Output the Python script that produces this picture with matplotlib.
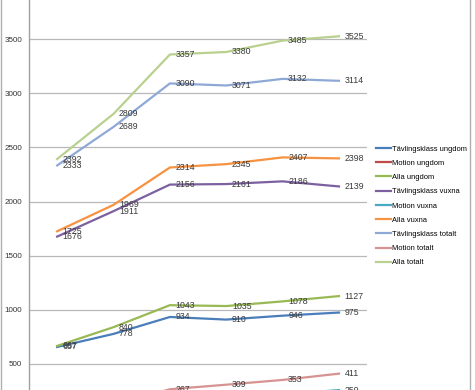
import matplotlib.pyplot as plt
from matplotlib.patches import Rectangle

plt.rcParams['font.family'] = ['Liberation Sans', 'DejaVu Sans']

# six seasons, x labels are cut off in the original view
points = range(6)

tavling_ungdom = [657, 778, 934, 910, 946, 975]
motion_ungdom = [10, 62, 109, 125, 132, 152]
alla_ungdom = [667, 840, 1043, 1035, 1078, 1127]
tavling_vuxna = [1676, 1911, 2156, 2161, 2186, 2139]
motion_vuxna = [49, 58, 158, 184, 221, 259]
alla_vuxna = [1725, 1969, 2314, 2345, 2407, 2398]
tavling_totalt = [2333, 2689, 3090, 3071, 3132, 3114]
motion_totalt = [59, 120, 267, 309, 353, 411]
alla_totalt = [2392, 2809, 3357, 3380, 3485, 3525]

series = [
    ('Tävlingsklass ungdom', tavling_ungdom, '#4A7EBB'),
    ('Motion ungdom', motion_ungdom, '#BE4B48'),
    ('Alla ungdom', alla_ungdom, '#98B954'),
    ('Tävlingsklass vuxna', tavling_vuxna, '#7D60A0'),
    ('Motion vuxna', motion_vuxna, '#46AAC5'),
    ('Alla vuxna', alla_vuxna, '#F69240'),
    ('Tävlingsklass totalt', tavling_totalt, '#8FA9D6'),
    ('Motion totalt', motion_totalt, '#D69392'),
    ('Alla totalt', alla_totalt, '#B9D08F'),
]

fig = plt.figure(figsize=(4.75, 3.9), dpi=100)
ax = fig.add_axes([0.061, 0.0, 0.712, 1.0])

for name, values, color in series:
    ax.plot(points, values, color=color, linewidth=1.6, label=name)
    for x, v in zip(points, values):
        ax.annotate(str(v), (x, v), xytext=(4, 0), textcoords='offset points',
                    ha='left', va='center', fontsize=6.3, color='#3a3a3a',
                    annotation_clip=False)

ax.set_xlim(-0.5, 5.5)
ax.set_ylim(260, 3860)
ax.set_yticks([500, 1000, 1500, 2000, 2500, 3000, 3500])
ax.set_xticks([])
ax.tick_params(axis='y', labelsize=5.8, length=0, pad=5, colors='#333333')
ax.grid(axis='y', color='#B8B8B8', linewidth=0.9)
ax.set_axisbelow(True)
for side in ['top', 'right', 'bottom']:
    ax.spines[side].set_visible(False)
ax.spines['left'].set_color('#A0A0A0')
ax.spines['left'].set_linewidth(1.0)

ax.legend(loc='upper left', bbox_to_anchor=(1.018, 0.635), frameon=False,
          fontsize=5.4, handlelength=2.0, handletextpad=0.1,
          labelspacing=0.93, borderaxespad=0)

# outer chart border of the original spreadsheet chart
fig.patches.append(Rectangle((0.002, -0.1), 0.988, 1.2, transform=fig.transFigure,
                             fill=False, edgecolor='#B0B0B0', linewidth=1.0))

fig.savefig('out.png', dpi=100)
